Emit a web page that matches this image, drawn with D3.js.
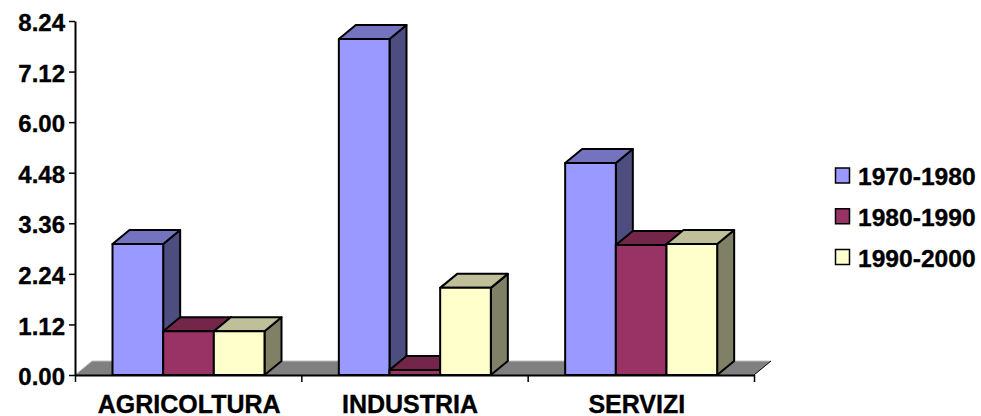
<!DOCTYPE html>
<html>
<head>
<meta charset="utf-8">
<script src="https://cdnjs.cloudflare.com/ajax/libs/d3/7.8.5/d3.min.js"></script>
<style>
body { margin:0; background:#fff; }
svg { display:block; }
text { font-family:"Liberation Sans",Arial,sans-serif; font-weight:bold; font-size:24px; fill:#000; stroke:#000; stroke-width:0.35px; }
</style>
</head>
<body>
<div id="chart"></div>
<script>
var width = 981,
	height = 416,
	x0 = 75,
	x1 = 754,
	y0 = 375,
	y1 = 21,
	depth_x = 17,
	depth_y = 14;

var categories = ["AGRICOLTURA","INDUSTRIA","SERVIZI"];
var series = ["1970-1980","1980-1990","1990-2000"];
var ticks = [0,1.12,2.24,3.36,4.48,6,7.12,8.24];

var v1970 = [2.90,7.84,4.77],
	v1980 = [0.97,0.11,2.88],
	v1990 = [0.97,1.93,2.90];
var values = [v1970,v1980,v1990];

var front = ["#9999ff","#993366","#ffffcc"],
	top_face = ["#7373bf","#732649","#bfbf99"],
	side = ["#4d4d80","#4d1a33","#808066"];

// the category labels do not sit exactly in the middle of their band
var label_nudge = [1,-4.5,-4];

var svg = d3.select("#chart").append("svg")
	.attr("width",width)
	.attr("height",height);

// axis labels are evenly spaced although the values are not
var Y = d3.scaleLinear()
	.domain(ticks)
	.range(ticks.map(function(d,i){ return y0 + (y1-y0)*i/(ticks.length-1); }));

var X = d3.scaleBand().domain(categories).range([x0,x1]);
var S = d3.scaleBand().domain(series).range([37.5,189.5]);

// floor
svg.append("path")
	.attr("d",d3.line()([[x0,y0],[x0+depth_x,y0-depth_y],[x1+depth_x,y0-depth_y],[x1,y0]]))
	.attr("fill","#808080");
svg.append("path")
	.attr("d",d3.line()([[x0,y0],[x0+depth_x,y0-depth_y],[x1+depth_x,y0-depth_y]]))
	.attr("fill","none")
	.attr("stroke","#c0c0c0")
	.attr("stroke-width",1);
svg.append("path")
	.attr("d",d3.line()([[x1+depth_x,y0-depth_y],[x1,y0]]))
	.attr("fill","none")
	.attr("stroke","#000")
	.attr("stroke-width",1);

// bars, left to right so the next front hides the previous side
var line = d3.line();
categories.forEach(function(c,ci){
	series.forEach(function(s,si){
		var l = X(c)+S(s),
			r = l+S.bandwidth(),
			t = Y(values[si][ci]),
			g = svg.append("g")
				.attr("stroke","#000")
				.attr("stroke-width",2)
				.attr("stroke-linejoin","round");
		g.append("path").attr("fill",side[si])
			.attr("d",line([[r,t],[r+depth_x,t-depth_y],[r+depth_x,y0-depth_y],[r,y0]])+"Z");
		g.append("path").attr("fill",top_face[si])
			.attr("d",line([[l,t],[l+depth_x,t-depth_y],[r+depth_x,t-depth_y],[r,t]])+"Z");
		g.append("path").attr("fill",front[si])
			.attr("d",line([[l,t],[r,t],[r,y0],[l,y0]])+"Z");
	});
});

// axes
var yAxis = d3.axisLeft(Y)
	.tickValues(ticks)
	.tickSize(6)
	.tickPadding(4)
	.tickSizeOuter(0)
	.tickFormat(d3.format(".2f"));
var gy = svg.append("g").attr("transform","translate("+x0+",0)").call(yAxis);

var xTicks = d3.axisBottom(d3.scaleLinear().domain([0,3]).range([x0,x1]))
	.tickValues([0,1,2,3])
	.tickSize(7)
	.tickSizeOuter(0)
	.tickFormat("");
var gx = svg.append("g").attr("transform","translate(0,"+y0+")").call(xTicks);

svg.selectAll(".domain").attr("stroke","#000").attr("stroke-width",2);
svg.selectAll(".tick line").attr("stroke","#000").attr("stroke-width",1.5);
gy.selectAll("text")
	.attr("dy","0.4em")
	.style("font-size","24px")
	.style("font-family",'"Liberation Sans",Arial,sans-serif');

svg.selectAll(".cat").data(categories).enter().append("text")
	.attr("class","cat")
	.attr("x",function(d,i){ return X(d)+X.bandwidth()/2+label_nudge[i]; })
	.attr("y",412.5)
	.attr("text-anchor","middle")
	.style("font-size","25px")
	.text(function(d){ return d; });

// legend
var L = d3.scalePoint().domain(series).range([175.5,257]);
var leg = svg.selectAll(".leg").data(series).enter().append("g")
	.attr("class","leg")
	.attr("transform",function(d){ return "translate(835,"+L(d)+")"; });
leg.append("rect")
	.attr("x",0.5).attr("y",-7.5)
	.attr("width",14).attr("height",15)
	.attr("fill",function(d,i){ return front[i]; })
	.attr("stroke","#000")
	.attr("stroke-width",1.5);
leg.append("text")
	.attr("x",23)
	.attr("y",9.5)
	.style("font-size","24.6px")
	.text(function(d){ return d; });
</script>
</body>
</html>
